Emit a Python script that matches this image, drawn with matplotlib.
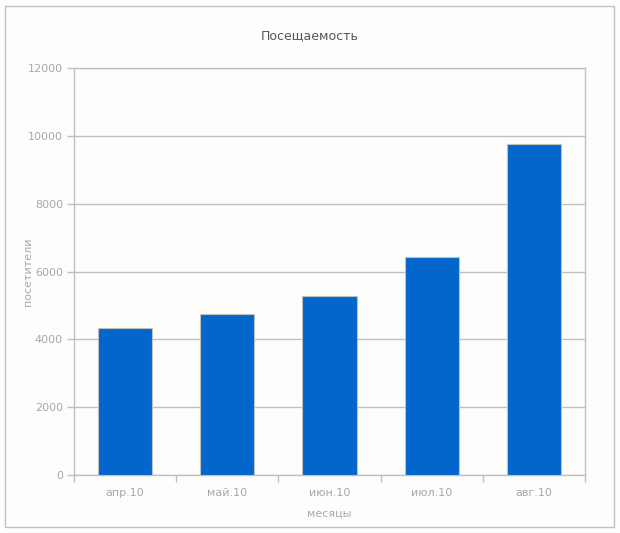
import matplotlib.pyplot as plt
import numpy as np
from matplotlib.patches import Rectangle

# данные
mesyacy = ['апр.10', 'май.10', 'июн.10', 'июл.10', 'авг.10']
posetiteli = [4320, 4740, 5270, 6420, 9755]
y_ticks = [0, 2000, 4000, 6000, 8000, 10000, 12000]

GRAY = '#C0C0C0'
TXT = '#A8A8A8'
BG = '#FDFEFC'

fig = plt.figure(figsize=(6.2, 5.33), dpi=100, facecolor=BG)
# рамка вокруг диаграммы
fig.patches.append(Rectangle((5 / 620, 6 / 533), 609 / 620, 521 / 533,
                             transform=fig.transFigure, fill=False,
                             edgecolor=GRAY, linewidth=1))

ax = fig.add_axes([74 / 620, 1 - 475 / 533, 511 / 620, 407 / 533])
ax.set_facecolor(BG)

x = np.arange(len(mesyacy))
ax.bar(x, posetiteli, width=0.53, color='#0366CC', edgecolor=GRAY,
       linewidth=0.8, zorder=3)

ax.set_xlim(-0.5, len(mesyacy) - 0.5)
ax.set_ylim(0, 12000)
ax.set_yticks(y_ticks)
ax.yaxis.grid(True, color=GRAY, linewidth=1, zorder=0)

ax.set_xticks(x)
ax.set_xticklabels(mesyacy)
ax.set_xticks(np.arange(-0.5, len(mesyacy)), minor=True)
ax.tick_params(axis='x', which='major', length=0, pad=9, labelsize=8,
               labelcolor=TXT)
ax.tick_params(axis='x', which='minor', length=5, color=GRAY, width=1)
ax.tick_params(axis='y', length=5, color=GRAY, width=1, labelsize=8,
               labelcolor=TXT, pad=3)

for s in ax.spines.values():
    s.set_color(GRAY)
    s.set_linewidth(1)

ax.set_xlabel('месяцы', fontsize=8, color=TXT, labelpad=8)
ax.set_ylabel('посетители', fontsize=8, color=TXT)
ax.yaxis.set_label_coords(-41 / 511, 0.5)
fig.text(0.5, 1 - 36 / 533, 'Посещаемость', ha='center', va='center',
         fontsize=9, color='#555555')

fig.savefig('out.png', dpi=100, facecolor=BG)
